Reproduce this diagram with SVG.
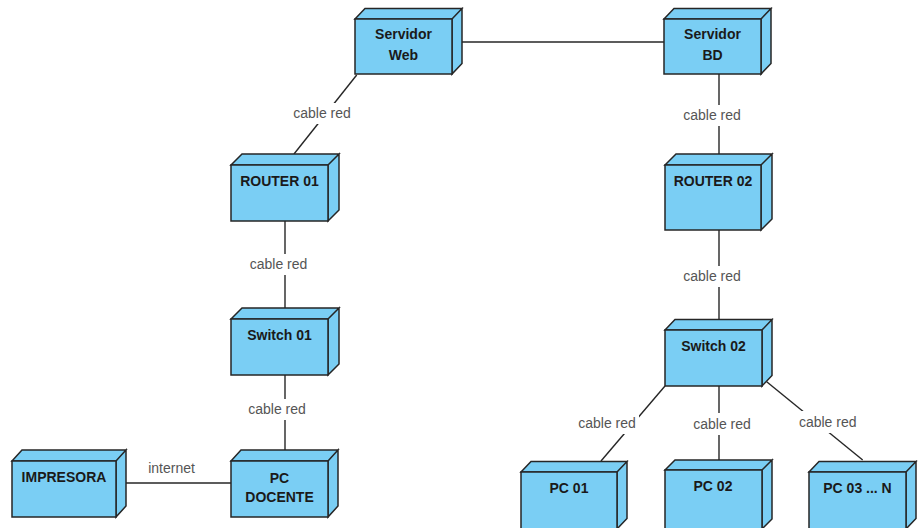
<svg xmlns="http://www.w3.org/2000/svg" width="921" height="528" viewBox="0 0 921 528">
<style>
.box{fill:#7acef4;stroke:#262626;stroke-width:1.5;stroke-linejoin:miter}
.nl{font-family:"Liberation Sans",Arial,sans-serif;font-size:14px;font-weight:bold;fill:#1a1a1a;text-anchor:middle}
.cn{stroke:#262626;stroke-width:1.4;fill:none}
.cl{font-family:"Liberation Sans",Arial,sans-serif;font-size:14px;fill:#555;text-anchor:middle}
.bg{fill:#fff}
</style>
<rect width="921" height="528" fill="#fff"/>
<g id="connectors">
<line class="cn" x1="462" y1="42" x2="664" y2="42"/>
<line class="cn" x1="356.7" y1="75" x2="294" y2="154"/>
<rect class="bg" x="290" y="103" width="64" height="21"/>
<text class="cl" x="322" y="118">cable red</text>
<line class="cn" x1="285" y1="221" x2="285" y2="308"/>
<rect class="bg" x="247" y="254" width="63" height="21"/>
<text class="cl" x="278.5" y="269">cable red</text>
<line class="cn" x1="285" y1="375" x2="285" y2="450"/>
<rect class="bg" x="245" y="399" width="63" height="21"/>
<text class="cl" x="277" y="414">cable red</text>
<line class="cn" x1="126" y1="483" x2="231" y2="483"/>
<text class="cl" x="171.5" y="473">internet</text>
<line class="cn" x1="719" y1="74" x2="719" y2="154"/>
<rect class="bg" x="680" y="105" width="64" height="21"/>
<text class="cl" x="712" y="120">cable red</text>
<line class="cn" x1="719" y1="230" x2="719" y2="319"/>
<rect class="bg" x="680" y="266" width="64" height="21"/>
<text class="cl" x="712" y="281">cable red</text>
<line class="cn" x1="665" y1="386" x2="601" y2="461"/>
<rect class="bg" x="575" y="412" width="64" height="22"/>
<text class="cl" x="607" y="428">cable red</text>
<line class="cn" x1="719" y1="386" x2="719" y2="460"/>
<rect class="bg" x="690" y="413" width="64" height="22"/>
<text class="cl" x="722" y="429">cable red</text>
<line class="cn" x1="766.7" y1="381.7" x2="862.7" y2="460"/>
<rect class="bg" x="796" y="411" width="64" height="22"/>
<text class="cl" x="827.7" y="426.5">cable red</text>
</g>
<g id="servidor-web">
<path class="box" d="M355 19 L365 8.5 L462 8.5 L452 19 Z M452 19 L462 8.5 L462 63.5 L452 74 Z"/>
<rect class="box" x="355" y="19" width="97" height="55"/>
<text class="nl" x="403.5" y="39">Servidor</text>
<text class="nl" x="403.5" y="60">Web</text>
</g>
<g id="servidor-bd">
<path class="box" d="M664 19 L674 8.5 L771 8.5 L761 19 Z M761 19 L771 8.5 L771 63.5 L761 74 Z"/>
<rect class="box" x="664" y="19" width="97" height="55"/>
<text class="nl" x="712.5" y="39">Servidor</text>
<text class="nl" x="712.5" y="60">BD</text>
</g>
<g id="router-01">
<path class="box" d="M231 165 L242 154 L339 154 L328 165 Z M328 165 L339 154 L339 210 L328 221 Z"/>
<rect class="box" x="231" y="165" width="97" height="56"/>
<text class="nl" x="279.5" y="186">ROUTER 01</text>
</g>
<g id="router-02">
<path class="box" d="M665 165 L676 154 L772 154 L761 165 Z M761 165 L772 154 L772 219 L761 230 Z"/>
<rect class="box" x="665" y="165" width="96" height="65"/>
<text class="nl" x="713" y="186">ROUTER 02</text>
</g>
<g id="switch-01">
<path class="box" d="M231 319 L242 308 L339 308 L328 319 Z M328 319 L339 308 L339 364 L328 375 Z"/>
<rect class="box" x="231" y="319" width="97" height="56"/>
<text class="nl" x="279.5" y="340">Switch 01</text>
</g>
<g id="switch-02">
<path class="box" d="M665 330 L675 319.5 L772 319.5 L762 330 Z M762 330 L772 319.5 L772 375.5 L762 386 Z"/>
<rect class="box" x="665" y="330" width="97" height="56"/>
<text class="nl" x="713.5" y="351">Switch 02</text>
</g>
<g id="pc-docente">
<path class="box" d="M231 461 L241 450 L338 450 L328 461 Z M328 461 L338 450 L338 506 L328 517 Z"/>
<rect class="box" x="231" y="461" width="97" height="56"/>
<text class="nl" x="279.5" y="483">PC</text>
<text class="nl" x="279.5" y="502">DOCENTE</text>
</g>
<g id="impresora">
<path class="box" d="M12 461 L22 450 L126 450 L116 461 Z M116 461 L126 450 L126 506 L116 517 Z"/>
<rect class="box" x="12" y="461" width="104" height="56"/>
<text class="nl" x="64" y="482">IMPRESORA</text>
</g>
<g id="pc-01">
<path class="box" d="M521 472 L531 461.5 L627 461.5 L617 472 Z M617 472 L627 461.5 L627 518.5 L617 529 Z"/>
<rect class="box" x="521" y="472" width="96" height="57"/>
<text class="nl" x="569" y="493">PC 01</text>
</g>
<g id="pc-02">
<path class="box" d="M665 470 L675 460 L772 460 L762 470 Z M762 470 L772 460 L772 519 L762 529 Z"/>
<rect class="box" x="665" y="470" width="97" height="59"/>
<text class="nl" x="713" y="491">PC 02</text>
</g>
<g id="pc-03-n">
<path class="box" d="M809 472 L819 461.5 L916 461.5 L906 472 Z M906 472 L916 461.5 L916 518.5 L906 529 Z"/>
<rect class="box" x="809" y="472" width="97" height="57"/>
<text class="nl" x="857.5" y="493">PC 03 ... N</text>
</g>
</svg>
